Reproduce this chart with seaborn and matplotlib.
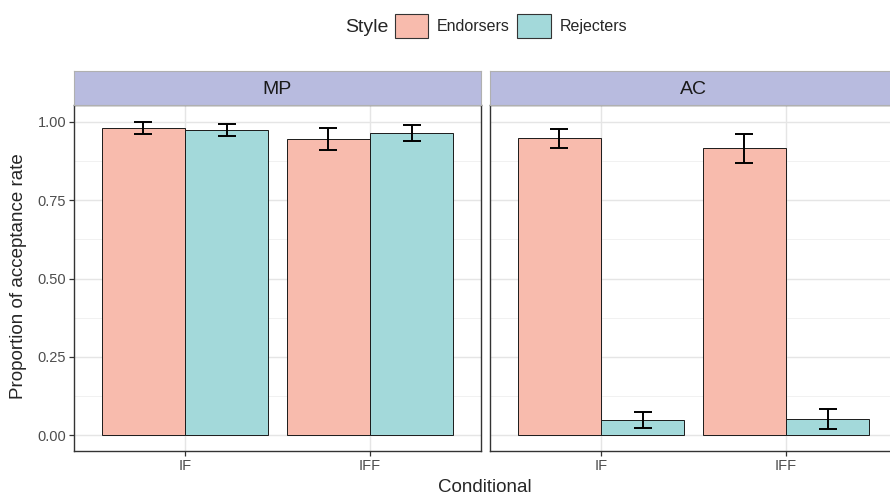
import numpy as np
import pandas as pd
import matplotlib
matplotlib.use("Agg")
import matplotlib.pyplot as plt
import seaborn as sns
from matplotlib.ticker import MultipleLocator
from matplotlib.patches import Patch

# data
conditionals = ["IF", "IFF"]
styles = ["Endorsers", "Rejecters"]
panels = ["MP", "AC"]

mp_endorsers = [0.981, 0.947]
mp_endorsers_lo = [0.963, 0.911]
mp_endorsers_hi = [1.001, 0.981]
mp_rejecters = [0.974, 0.965]
mp_rejecters_lo = [0.955, 0.939]
mp_rejecters_hi = [0.994, 0.991]

ac_endorsers = [0.948, 0.916]
ac_endorsers_lo = [0.917, 0.869]
ac_endorsers_hi = [0.979, 0.960]
ac_rejecters = [0.049, 0.052]
ac_rejecters_lo = [0.023, 0.019]
ac_rejecters_hi = [0.074, 0.084]

y_ticks = [0.0, 0.25, 0.5, 0.75, 1.0]
y_tick_labels = ["0.00", "0.25", "0.50", "0.75", "1.00"]

colors = {"Endorsers": "#F8BBAD", "Rejecters": "#A3D9DA"}
strip_col = "#B8BBDF"

rows = []
for panel, vals in [("MP", [(mp_endorsers, mp_endorsers_lo, mp_endorsers_hi),
                            (mp_rejecters, mp_rejecters_lo, mp_rejecters_hi)]),
                    ("AC", [(ac_endorsers, ac_endorsers_lo, ac_endorsers_hi),
                            (ac_rejecters, ac_rejecters_lo, ac_rejecters_hi)])]:
    for style, (m, lo, hi) in zip(styles, vals):
        for i, c in enumerate(conditionals):
            rows.append(dict(panel=panel, Style=style, Conditional=c,
                             rate=m[i], lo=lo[i], hi=hi[i]))
df = pd.DataFrame(rows)

sns.set_style("white")
plt.rcParams["font.family"] = ["Liberation Sans", "DejaVu Sans"]

W, H = 890, 496
fig = plt.figure(figsize=(8.9, 4.96), dpi=100)

# right panel runs past the image edge in the reference
panel_x = [(74, 481), (490, 897)]
top, bottom = 105, 451
strip_top = 71

for k, panel in enumerate(panels):
    x0, x1 = panel_x[k]
    ax = fig.add_axes([x0 / W, 1 - bottom / H, (x1 - x0) / W, (bottom - top) / H])
    sub = df[df.panel == panel]
    sns.barplot(data=sub, x="Conditional", y="rate", hue="Style",
                order=conditionals, hue_order=styles, palette=colors,
                saturation=1, width=0.9, gap=0, errorbar=None,
                edgecolor="#1a1a1a", linewidth=0.7, legend=False, ax=ax, zorder=3)
    # error bars at bar centres
    for style, cont in zip(styles, ax.containers):
        s = sub[sub.Style == style].set_index("Conditional").loc[conditionals]
        xs = [b.get_x() + b.get_width() / 2 for b in cont]
        ax.errorbar(xs, s.rate, yerr=[s.rate - s.lo, s.hi - s.rate],
                    fmt="none", ecolor="black", elinewidth=1.4,
                    capsize=6.5, capthick=1.4, zorder=4)
    ax.set_xlim(-0.6, 1.6)
    ax.set_ylim(-0.05, 1.054)
    ax.set_yticks(y_ticks)
    ax.yaxis.set_minor_locator(MultipleLocator(0.125))
    ax.grid(which="major", color="#E5E5E5", lw=1.0, zorder=0)
    ax.grid(which="minor", axis="y", color="#EFEFEF", lw=0.6, zorder=0)
    ax.set_axisbelow(True)
    for sp in ax.spines.values():
        sp.set_visible(True)
        sp.set_color("#333333")
        sp.set_linewidth(1.0)
    ax.set_xlabel("")
    ax.set_ylabel("")
    ax.tick_params(axis="x", which="major", length=3.5, width=0.9, color="#333333",
                   labelsize=10.5, labelcolor="#4D4D4D", pad=2, bottom=True)
    ax.tick_params(axis="y", which="major", length=3.5, width=0.9, color="#333333",
                   labelsize=10.5, labelcolor="#4D4D4D", pad=2, left=(k == 0),
                   labelleft=(k == 0))
    ax.tick_params(which="minor", length=0)
    if k == 0:
        ax.set_yticklabels(y_tick_labels)

    # facet strip
    sax = fig.add_axes([x0 / W, 1 - top / H, (x1 - x0) / W, (top - strip_top) / H])
    sax.set_facecolor(strip_col)
    sax.set_xticks([])
    sax.set_yticks([])
    for sp in sax.spines.values():
        sp.set_color("#B0B0B0")
        sp.set_linewidth(0.8)
    sax.text(0.5, 0.47, panel, ha="center", va="center", fontsize=14,
             color="#1A1A1A", transform=sax.transAxes)

fig.text(485 / W, 1 - 487 / H, "Conditional", ha="center", va="center", fontsize=13.5)
fig.text(19 / W, 1 - 276 / H, "Proportion of acceptance rate", ha="center",
         va="center", rotation=90, fontsize=13.5)

handles = [Patch(facecolor=colors[s], edgecolor="#333333", lw=0.8, label=s) for s in styles]
fig.text(388 / W, 1 - 27 / H, "Style", ha="right", va="center", fontsize=14)
fig.legend(handles=handles, loc="center", bbox_to_anchor=(511 / W, 1 - 26 / H),
           ncols=2, frameon=False, fontsize=11.5, handlelength=2.1, handleheight=1.95,
           handletextpad=0.55, columnspacing=0.45, borderpad=0)

fig.savefig("out.png", dpi=100)
